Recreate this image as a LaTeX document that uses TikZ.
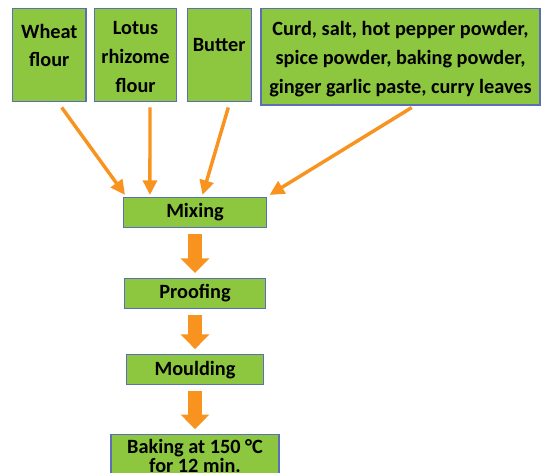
\documentclass[tikz,border=0pt]{standalone}
\usepackage{fontspec}
\setmainfont{Carlito}
\usepackage{tikz}
\usetikzlibrary{positioning, arrows.meta, calc}
\definecolor{boxgreen}{HTML}{8DC63F}
\definecolor{boxblue}{HTML}{5B6FB4}
\definecolor{arrorange}{HTML}{F7931E}

\begin{document}
\begin{tikzpicture}[x=0.75pt, y=-0.75pt,
    ingr/.style={rectangle, draw=boxblue, fill=boxgreen, line width=0.8pt,
                 inner sep=0pt, minimum height=70pt},
    ingrtxt/.style={anchor=north, inner sep=0pt, align=center,
                    font=\fontsize{15.2}{21.5}\selectfont\bfseries},
    stage/.style={rectangle, draw=boxblue, fill=boxgreen, line width=0.8pt,
                  inner sep=2pt, minimum height=22.5pt, align=center,
                  font=\fontsize{15.2}{14.8}\selectfont\bfseries},
    arr/.style={-{Triangle[width=10.5pt, length=11pt]}, line width=2.6pt, arrorange},
    bigarr/.style={-{Triangle[width=21pt, length=11pt]}, line width=10pt, arrorange,
                   shorten <=4.5pt, shorten >=3.75pt},
    node distance=36pt
]
    \useasboundingbox (0,0) rectangle (545,473);

    % Ingredients
    \node[ingr, minimum width=55pt] (wheat) at (49.3,55) {};
    \node[ingr, minimum width=61.8pt] (lotus) at (135.5,55) {};
    \node[ingr, minimum width=47.8pt] (butter) at (219.2,55) {};
    \node[ingr, minimum width=209.25pt, minimum height=72.5pt] (curd) at (400.5,56.7) {};

    \node[ingrtxt] (wheattxt) at ($(wheat.north)+(0,16)$) {Wheat\\flour};
    \node[ingrtxt] (lotustxt) at ($(lotus.north)+(0,13.5)$) {Lotus\\rhizome\\flour};
    \node[ingrtxt] (buttertxt) at ($(butter.north)+(0,30.5)$) {Butter};
    \node[ingrtxt] (curdtxt) at ($(curd.north)+(0,13.5)$)
          {Curd, salt, hot pepper powder,\\spice powder, baking powder,\\ginger garlic paste, curry leaves};

    % Process
    \node[stage, minimum width=107.25pt] (mix) at (195,212.5) {Mixing};
    \node[stage, minimum width=106pt, below=37.5pt of mix] (proof) {Proofing};
    \node[stage, minimum width=103pt, below=33.75pt of proof] (mould) {Moulding};
    \node[stage, minimum width=126pt, minimum height=32pt, below=36.75pt of mould] (bake)
          {Baking at 150 °C\\for 12 min.};

    \draw[arr] ($(wheat.south)+(12.4,5.3)$) -- ($(mix.north west)+(2,-2)$);
    \draw[arr] ($(lotus.south)+(14.5,5.3)$) -- ($(mix.north west)+(27,-2)$);
    \draw[arr] ($(butter.south)+(9.1,5.3)$) -- ($(mix.north)+(7.5,-2)$);
    \draw[arr] ($(curd.south)+(11.2,2)$) -- ($(mix.north east)+(2.5,-2)$);

    \draw[bigarr] (mix) -- (proof);
    \draw[bigarr] (proof) -- (mould);
    \draw[bigarr] (mould) -- (bake);
\end{tikzpicture}
\end{document}
